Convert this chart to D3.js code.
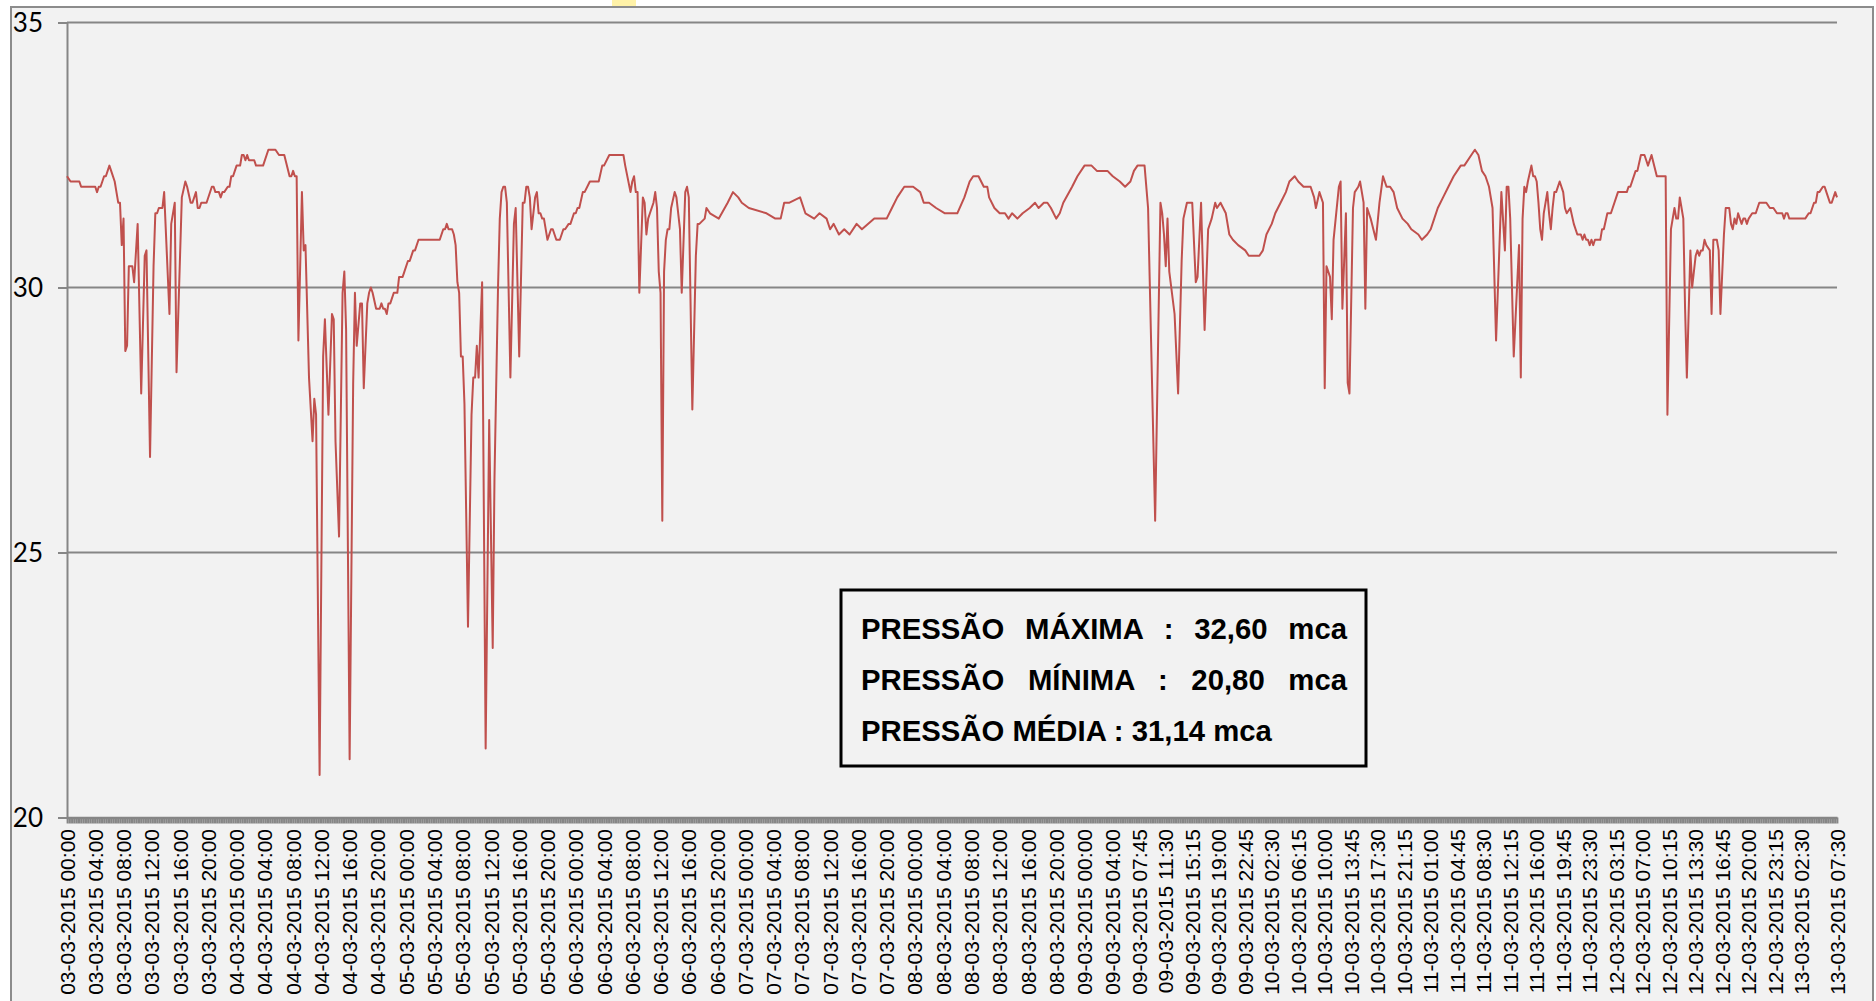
<!DOCTYPE html>
<html>
<head>
<meta charset="utf-8">
<script src="https://cdn.jsdelivr.net/npm/d3@7"></script>
<style>
  body { margin: 0; background: #ffffff; }
  svg { display: block; }
</style>
</head>
<body>
<div id="chart"></div>
<script>
// pressure readings: [reading no. (15 min), mca]
var readings = [
  [0,32.1],[2,32.0],[7,32.0],[8,31.9],[16,31.9],[17,31.8],[18,31.9],[19,31.9],[21,32.1],[22,32.1],
  [24,32.3],[25,32.2],[27,32.0],[28,31.8],[29,31.6],[30,31.6],[31,30.8],[32,31.3],[33,28.8],[34,28.9],
  [35,30.4],[37,30.4],[38,30.1],[40,31.2],[42,28.0],[44,30.6],[45,30.7],[47,26.8],[49,30.4],[50,31.4],
  [51,31.4],[52,31.5],[54,31.5],[55,31.8],[58,29.5],[59,31.2],[61,31.6],[62,28.4],[65,31.7],[67,32.0],
  [68,31.9],[70,31.6],[71,31.6],[73,31.8],[74,31.5],[75,31.5],[76,31.6],[79,31.6],[82,31.9],[83,31.9],
  [84,31.8],[86,31.8],[87,31.7],[88,31.8],[89,31.8],[91,31.9],[92,31.9],[93,32.1],[94,32.1],[95,32.2],
  [96,32.3],[98,32.3],[99,32.5],[100,32.5],[101,32.4],[102,32.5],[103,32.4],[106,32.4],[107,32.3],[111,32.3],
  [114,32.6],[118,32.6],[120,32.5],[123,32.5],[126,32.1],[127,32.1],[128,32.2],[129,32.1],[130,32.1],[131,29.0],
  [133,31.8],[134,30.7],[135,30.8],[137,28.3],[139,27.1],[140,27.9],[141,27.6],[143,20.8],[145,28.7],[146,29.4],
  [148,27.6],[150,29.5],[151,29.4],[152,27.1],[154,25.3],[156,29.9],[157,30.3],[158,29.2],[160,21.1],[162,28.2],
  [163,29.9],[164,28.9],[166,29.7],[167,29.7],[168,28.1],[170,29.7],[171,29.9],[172,30.0],[173,29.9],[175,29.6],
  [177,29.6],[178,29.7],[179,29.6],[180,29.6],[181,29.5],[182,29.7],[183,29.7],[185,29.9],[187,29.9],[188,30.2],
  [190,30.2],[191,30.3],[193,30.5],[194,30.5],[196,30.7],[197,30.7],[199,30.9],[211,30.9],[213,31.1],[214,31.1],
  [215,31.2],[216,31.1],[218,31.1],[219,31.0],[220,30.8],[221,30.1],[222,29.9],[223,28.7],[224,28.7],[225,27.8],
  [227,23.6],[229,27.6],[230,28.3],[231,28.3],[232,28.9],[233,28.3],[235,30.1],[237,21.3],[239,27.5],[241,23.2],
  [242,26.4],[244,30.0],[245,31.3],[246,31.8],[247,31.9],[248,31.9],[249,31.6],[251,28.3],[253,31.2],[254,31.5],
  [256,28.7],[258,31.6],[259,31.6],[260,31.9],[261,31.9],[262,31.7],[263,31.1],[264,31.4],[265,31.7],[266,31.8],
  [267,31.4],[268,31.4],[269,31.3],[270,31.3],[272,30.9],[273,31.0],[274,31.1],[275,31.1],[277,30.9],[279,30.9],
  [281,31.1],[282,31.1],[284,31.2],[285,31.2],[287,31.4],[288,31.4],[289,31.5],[290,31.5],[292,31.8],[293,31.8],
  [296,32.0],[301,32.0],[303,32.3],[304,32.3],[307,32.5],[315,32.5],[316,32.3],[319,31.8],[320,32.0],[321,32.1],
  [322,31.8],[323,31.8],[324,29.9],[326,31.7],[327,31.6],[328,31.0],[329,31.3],[330,31.4],[331,31.5],[332,31.6],
  [333,31.8],[334,31.5],[335,30.3],[336,29.9],[337,25.6],[338,30.3],[339,30.9],[340,31.1],[341,31.1],[342,31.5],
  [344,31.8],[345,31.7],[347,31.1],[348,29.9],[350,31.8],[351,31.9],[352,31.7],[354,27.7],[356,30.6],[357,31.2],
  [358,31.2],[361,31.3],[362,31.5],[364,31.4],[369,31.3],[374,31.6],[377,31.8],[380,31.7],[382,31.6],[386,31.5],
  [396,31.4],[401,31.3],[404,31.3],[406,31.6],[409,31.6],[415,31.7],[418,31.4],[423,31.3],[426,31.4],[430,31.3],
  [432,31.1],[434,31.2],[437,31.0],[440,31.1],[443,31.0],[447,31.2],[450,31.1],[457,31.3],[464,31.3],[467,31.5],
  [470,31.7],[474,31.9],[479,31.9],[483,31.8],[485,31.6],[488,31.6],[492,31.5],[497,31.4],[504,31.4],[508,31.7],
  [511,32.0],[513,32.1],[516,32.1],[519,31.9],[521,31.9],[522,31.7],[525,31.5],[528,31.4],[531,31.4],[533,31.3],
  [535,31.4],[538,31.3],[541,31.4],[545,31.5],[548,31.6],[550,31.5],[553,31.6],[555,31.6],[557,31.5],[560,31.3],
  [562,31.4],[564,31.6],[569,31.9],[572,32.1],[576,32.3],[580,32.3],[583,32.2],[589,32.2],[592,32.1],[596,32.0],
  [599,31.9],[602,32.0],[604,32.2],[606,32.3],[610,32.3],[612,31.5],[616,25.6],[619,31.6],[620,31.4],[621,31.0],
  [622,30.4],[623,31.3],[624,30.3],[627,29.5],[629,28.0],[631,30.5],[632,31.3],[634,31.6],[637,31.6],[639,30.1],
  [640,30.2],[642,31.6],[644,29.2],[646,31.1],[648,31.3],[650,31.6],[651,31.5],[653,31.6],[656,31.4],[658,31.0],
  [660,30.9],[663,30.8],[667,30.7],[669,30.6],[675,30.6],[677,30.7],[679,31.0],[682,31.2],[684,31.4],[687,31.6],
  [690,31.8],[692,32.0],[695,32.1],[697,32.0],[700,31.9],[704,31.9],[706,31.7],[707,31.5],[709,31.8],[711,31.6],
  [712,28.1],[713,30.4],[715,30.2],[716,29.4],[717,30.9],[720,31.9],[721,32.0],[722,29.6],[724,31.4],[725,28.2],
  [726,28.0],[728,31.5],[729,31.8],[731,31.9],[732,32.0],[734,31.6],[735,29.6],[736,31.5],[738,31.3],[741,30.9],
  [743,31.6],[745,32.1],[747,31.9],[749,31.9],[751,31.8],[753,31.5],[756,31.3],[759,31.2],[761,31.1],[765,31.0],
  [767,30.9],[770,31.0],[772,31.1],[774,31.3],[776,31.5],[779,31.7],[782,31.9],[785,32.1],[789,32.3],[791,32.3],
  [795,32.5],[797,32.6],[799,32.5],[801,32.2],[803,32.1],[805,31.9],[807,31.5],[809,29.0],[812,31.8],[814,30.7],
  [815,31.9],[816,31.9],[817,31.3],[819,28.7],[822,30.8],[823,28.3],[824,31.3],[825,31.9],[826,31.8],[827,32.0],
  [829,32.3],[830,32.1],[831,32.1],[832,32.0],[833,31.6],[834,31.1],[835,30.9],[836,31.4],[838,31.8],[839,31.4],
  [840,31.1],[841,31.5],[842,31.8],[843,31.8],[845,32.0],[847,31.8],[848,31.5],[849,31.4],[851,31.5],[853,31.2],
  [855,31.0],[857,31.0],[858,30.9],[859,31.0],[860,30.9],[861,30.9],[862,30.8],[863,30.9],[864,30.8],[865,30.9],
  [868,30.9],[869,31.1],[870,31.1],[872,31.4],[874,31.4],[875,31.5],[878,31.8],[883,31.8],[884,31.9],[885,31.9],
  [888,32.2],[889,32.2],[891,32.5],[893,32.5],[894,32.4],[895,32.3],[897,32.5],[900,32.1],[905,32.1],[906,27.6],
  [908,31.1],[910,31.5],[911,31.3],[912,31.3],[913,31.7],[914,31.5],[915,31.3],[916,29.6],[917,28.3],[919,30.7],
  [920,30.0],[922,30.6],[923,30.7],[924,30.6],[925,30.7],[926,30.7],[927,30.9],[928,30.8],[930,30.7],[931,29.5],
  [932,30.9],[934,30.9],[935,30.7],[936,29.5],[938,31.0],[939,31.5],[941,31.5],[942,31.2],[943,31.1],[944,31.3],
  [945,31.2],[946,31.4],[947,31.3],[948,31.2],[949,31.3],[950,31.3],[951,31.2],[952,31.3],[954,31.4],[956,31.4],
  [958,31.6],[962,31.6],[964,31.5],[966,31.5],[968,31.4],[971,31.4],[972,31.3],[973,31.4],[974,31.4],[975,31.3],
  [984,31.3],[986,31.4],[987,31.4],[989,31.6],[990,31.6],[991,31.8],[992,31.8],[994,31.9],[995,31.9],[996,31.8],
  [998,31.6],[999,31.6],[1001,31.8],[1002,31.7]
];

var timeLabels = [
  "03-03-2015 00:00","03-03-2015 04:00","03-03-2015 08:00","03-03-2015 12:00","03-03-2015 16:00","03-03-2015 20:00",
  "04-03-2015 00:00","04-03-2015 04:00","04-03-2015 08:00","04-03-2015 12:00","04-03-2015 16:00","04-03-2015 20:00",
  "05-03-2015 00:00","05-03-2015 04:00","05-03-2015 08:00","05-03-2015 12:00","05-03-2015 16:00","05-03-2015 20:00",
  "06-03-2015 00:00","06-03-2015 04:00","06-03-2015 08:00","06-03-2015 12:00","06-03-2015 16:00","06-03-2015 20:00",
  "07-03-2015 00:00","07-03-2015 04:00","07-03-2015 08:00","07-03-2015 12:00","07-03-2015 16:00","07-03-2015 20:00",
  "08-03-2015 00:00","08-03-2015 04:00","08-03-2015 08:00","08-03-2015 12:00","08-03-2015 16:00","08-03-2015 20:00",
  "09-03-2015 00:00","09-03-2015 04:00","09-03-2015 07:45","09-03-2015 11:30","09-03-2015 15:15","09-03-2015 19:00",
  "09-03-2015 22:45","10-03-2015 02:30","10-03-2015 06:15","10-03-2015 10:00","10-03-2015 13:45","10-03-2015 17:30",
  "10-03-2015 21:15","11-03-2015 01:00","11-03-2015 04:45","11-03-2015 08:30","11-03-2015 12:15","11-03-2015 16:00",
  "11-03-2015 19:45","11-03-2015 23:30","12-03-2015 03:15","12-03-2015 07:00","12-03-2015 10:15","12-03-2015 13:30",
  "12-03-2015 16:45","12-03-2015 20:00","12-03-2015 23:15","13-03-2015 02:30","13-03-2015 07:30"
];
// reading number under each label (16 readings per label, then 15)
var labelReading = d3.range(0, 593, 16).concat(d3.range(607, 983, 15)).concat([1002]);

var yTicks = [20, 25, 30, 35];
var summary = [
  ["PRESSÃO", "MÁXIMA", ":", "32,60", "mca"],
  ["PRESSÃO", "MÍNIMA", ":", "20,80", "mca"],
  ["PRESSÃO MÉDIA : 31,14 mca"]
];

var width = 1876, height = 1001;
var plot = {left: 67, right: 1837, top: 22.5, bottom: 817.5};
var grey = "#868686";

var svg = d3.select("#chart").append("svg")
    .attr("width", width)
    .attr("height", height);

// chart area
svg.append("rect")
    .attr("x", 11).attr("y", 7)
    .attr("width", 1862).attr("height", 1010)
    .attr("fill", "#f2f2f2")
    .attr("stroke", "#8c8c8c")
    .attr("stroke-width", 2);

svg.append("rect")
    .attr("x", 612).attr("y", 0)
    .attr("width", 24).attr("height", 6)
    .attr("fill", "#fff2a8");

var x = d3.scaleLinear()
    .domain([0, 1002])
    .range([plot.left, plot.right]);
var y = d3.scaleLinear()
    .domain([20, 35])
    .range([plot.bottom, plot.top]);

// gridlines
svg.selectAll(".grid")
    .data(yTicks.slice(1))
  .enter().append("line")
    .attr("class", "grid")
    .attr("x1", plot.left).attr("x2", plot.right)
    .attr("y1", function(d) { return y(d); })
    .attr("y2", function(d) { return y(d); })
    .attr("stroke", grey)
    .attr("stroke-width", 2);

// y axis
var yAxis = svg.append("g")
    .attr("transform", "translate(" + plot.left + ",0)")
    .call(d3.axisLeft(y).tickValues(yTicks).tickSize(9).tickPadding(15).tickSizeOuter(0));
yAxis.select(".domain").attr("stroke", grey).attr("stroke-width", 2);
yAxis.selectAll(".tick line").attr("stroke", grey).attr("stroke-width", 2);
yAxis.selectAll(".tick text")
    .attr("fill", "#000")
    .attr("dy", "0.36em")
    .style("font-family", "Lato, 'Open Sans', sans-serif")
    .style("font-size", "26px");

// x axis: one tick per reading
var xAxis = svg.append("g")
    .attr("transform", "translate(0," + plot.bottom + ")")
    .call(d3.axisBottom(x).tickValues(d3.range(0, 1003)).tickSize(6).tickFormat("").tickSizeOuter(0));
xAxis.select(".domain").attr("stroke", grey).attr("stroke-width", 2.5);
xAxis.selectAll(".tick line").attr("stroke", grey).attr("stroke-width", 1.8);

svg.selectAll(".xlabel")
    .data(timeLabels)
  .enter().append("text")
    .attr("class", "xlabel")
    .attr("transform", function(d, i) { return "translate(" + x(labelReading[i]) + ",829) rotate(-90)"; })
    .attr("dy", "0.36em")
    .attr("text-anchor", "end")
    .style("font-family", "'Liberation Sans', Arial, sans-serif")
    .style("font-size", "21px")
    .attr("fill", "#000")
    .text(function(d) { return d; });

// pressure line
var line = d3.line()
    .x(function(d) { return x(d[0]); })
    .y(function(d) { return y(d[1]); });

svg.append("path")
    .datum(readings)
    .attr("d", line)
    .attr("fill", "none")
    .attr("stroke", "#c0504d")
    .attr("stroke-width", 2)
    .attr("stroke-linejoin", "round");

// summary box
svg.append("rect")
    .attr("x", 841).attr("y", 590)
    .attr("width", 525).attr("height", 176)
    .attr("fill", "#f2f2f2")
    .attr("stroke", "#000")
    .attr("stroke-width", 3);

var boxText = svg.selectAll(".summary")
    .data(summary)
  .enter().append("text")
    .attr("class", "summary")
    .attr("x", 861)
    .attr("y", function(d, i) { return 639 + i * 51; })
    .style("font-family", "'Liberation Sans', Arial, sans-serif")
    .style("font-weight", "bold")
    .style("font-size", "29.3px")
    .attr("fill", "#000")
    .text(function(d) { return d.join(" "); });

// first two lines are justified to the box width
boxText.each(function(d) {
  if (d.length < 2) return;
  var natural = this.getComputedTextLength();
  var gap = (486 - natural) / (d.length - 1);
  d3.select(this).style("word-spacing", gap + "px");
});
</script>
</body>
</html>
